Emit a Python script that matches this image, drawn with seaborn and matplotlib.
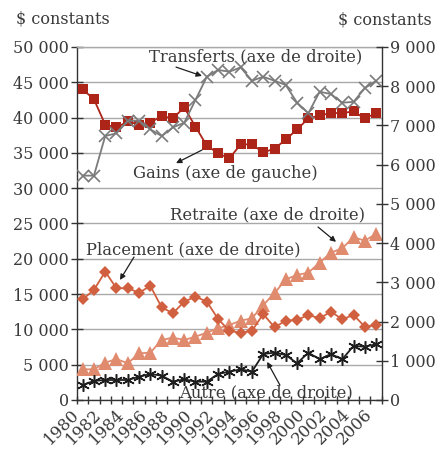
import numpy as np
import pandas as pd
import matplotlib
matplotlib.use("Agg")
import matplotlib.pyplot as plt
import matplotlib.ticker as mticker
import seaborn as sns

years = list(range(1980, 2007))

# left axis ($)
gains = [44000, 42600, 39000, 38600, 39450, 39000, 39300, 40200, 39900, 41450,
         38700, 36050, 34930, 34220, 36200, 36200, 35070, 35590, 36900, 38330,
         39880, 40300, 40640, 40640, 40880, 39880, 40640]

# right axis ($)
transferts = [5720, 5720, 6730, 6800, 7120, 7120, 6900, 6730, 6950, 7070,
              7650, 8240, 8415, 8370, 8480, 8140, 8240, 8140, 8030, 7580,
              7310, 7860, 7800, 7580, 7600, 7950, 8140]
placement = [2567, 2805, 3272, 2848, 2848, 2737, 2907, 2363, 2210, 2508,
             2635, 2508, 2066, 1760, 1717, 1760, 2193, 1853, 2023, 2040,
             2168, 2082, 2253, 2057, 2168, 1870, 1904]
retraite = [782, 782, 952, 1045, 935, 1190, 1207, 1530, 1590, 1530,
            1615, 1717, 1827, 1912, 2023, 2082, 2422, 2720, 3077, 3187,
            3247, 3502, 3757, 3867, 4148, 4063, 4233]
autre = [382, 485, 510, 510, 510, 595, 663, 620, 467, 527,
         467, 467, 663, 722, 782, 722, 1173, 1207, 1147, 935,
         1207, 1037, 1173, 1037, 1377, 1360, 1420]

df = pd.DataFrame({
    "year": years,
    "gains": gains,
    "transferts": transferts,
    "placement": placement,
    "retraite": retraite,
    "autre": autre,
})

text_color = "#3a3a3a"
grid_color = "#a9a9a9"

sns.set_theme(style="white")
plt.rcParams["font.family"] = ["DejaVu Serif"]

fig = plt.figure(figsize=(4.36, 4.51), dpi=100)
ax = fig.add_axes([0.1766, 0.1131, 0.6989, 0.7827])
ax2 = ax.twinx()

ax.yaxis.grid(True, color=grid_color, linewidth=1)
ax.set_axisbelow(True)

# left axis series
sns.lineplot(data=df, x="year", y="gains", ax=ax, color="#ad2419", linewidth=1.3,
             marker="s", markersize=7.5, markeredgewidth=0, markeredgecolor="#ad2419",
             legend=False, zorder=3)

# right axis series
sns.lineplot(data=df, x="year", y="transferts", ax=ax2, color="#7b7b7b", linewidth=1.3,
             marker="x", markersize=8, markeredgewidth=1.2, markeredgecolor="#7b7b7b",
             legend=False)
sns.lineplot(data=df, x="year", y="retraite", ax=ax2, color="#e08a6e", linewidth=1.3,
             marker="^", markersize=10, markeredgewidth=0, markeredgecolor="#e08a6e",
             legend=False)
sns.lineplot(data=df, x="year", y="placement", ax=ax2, color="#d0603f", linewidth=1.3,
             marker="D", markersize=6.5, markeredgewidth=0, markeredgecolor="#d0603f",
             legend=False)
sns.lineplot(data=df, x="year", y="autre", ax=ax2, color="#1e1e1e", linewidth=1.3,
             marker=(6, 2, 0), markersize=9, markeredgewidth=1.1, markeredgecolor="#1e1e1e",
             legend=False)

space_fmt = mticker.FuncFormatter(lambda v, p: f"{int(v):,}".replace(",", " "))

ax.set_xlim(1979.5, 2006.5)
ax.set_ylim(0, 50000)
ax2.set_ylim(0, 9000)
ax.set_yticks(range(0, 50001, 5000))
ax2.set_yticks(range(0, 9001, 1000))
ax.yaxis.set_major_formatter(space_fmt)
ax2.yaxis.set_major_formatter(space_fmt)

ax.set_xticks(years[::2])
ax.set_xticklabels([str(y) for y in years[::2]], rotation=45, ha="right")
ax.set_xticks(np.arange(years[0] - 0.5, years[-1] + 1), minor=True)

ax.set_xlabel("")
ax.set_ylabel("")
ax2.set_ylabel("")

ax.tick_params(axis="x", which="major", length=0, pad=4, labelsize=12, labelcolor=text_color)
ax.tick_params(axis="x", which="minor", bottom=True, direction="inout", length=6,
               width=1, color="#333333")
ax.tick_params(axis="y", left=True, direction="inout", length=8, width=1,
               color="#333333", labelsize=11.5, labelcolor=text_color, pad=2)
ax2.tick_params(axis="y", right=True, direction="inout", length=8, width=1,
                color="#333333", labelsize=11.5, labelcolor=text_color, pad=2)

for name, sp in ax.spines.items():
    sp.set_visible(name in ("left", "bottom", "top"))
    sp.set_color("#333333")
    sp.set_linewidth(1)
ax.spines["top"].set_color(grid_color)
for name, sp in ax2.spines.items():
    sp.set_visible(name == "right")
    sp.set_color("#333333")
    sp.set_linewidth(1)

# axis titles
fig.text(16 / 436, 1 - 19 / 451, "$ constants", ha="left", va="center",
         fontsize=11.5, color=text_color)
fig.text(432 / 436, 1 - 20 / 451, "$ constants", ha="right", va="center",
         fontsize=11.5, color=text_color)

# series labels with arrows
labels = [
    ("Transferts (axe de droite)", (0.587, 0.972), (0.325, 0.943), (0.410, 0.918)),
    ("Gains (axe de gauche)", (0.486, 0.643), (0.410, 0.708), (0.325, 0.671)),
    ("Retraite (axe de droite)", (0.624, 0.524), (0.791, 0.490), (0.850, 0.448)),
    ("Placement (axe de droite)", (0.382, 0.425), (0.187, 0.405), (0.141, 0.340)),
    ("Autre (axe de droite)", (0.620, 0.020), (0.666, 0.042), (0.624, 0.108)),
]
for txt, pos, tail, head in labels:
    ax2.text(pos[0], pos[1], txt, transform=ax2.transAxes, ha="center", va="center",
             fontsize=11.8, color=text_color, zorder=10)
    ax2.annotate("", xy=head, xytext=tail, xycoords="axes fraction",
                 textcoords="axes fraction",
                 arrowprops=dict(arrowstyle="-|>", color="#1e1e1e", lw=0.9,
                                 mutation_scale=8, shrinkA=0, shrinkB=0),
                 zorder=10)

fig.savefig("out.png", dpi=100)
